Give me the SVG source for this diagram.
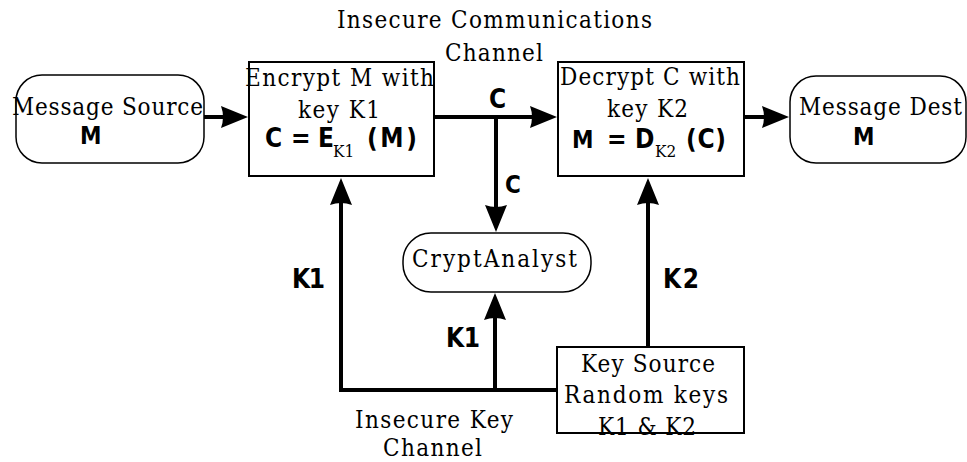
<svg xmlns="http://www.w3.org/2000/svg" width="967" height="462" viewBox="0 0 967 462">
<defs>
<marker id="ah" markerUnits="userSpaceOnUse" markerWidth="28" markerHeight="24" viewBox="0 0 28 24" refX="18" refY="12" orient="auto">
<path d="M0,1 L27,12 L0,23 Q4,12 0,1 z" fill="#000"/>
</marker>
<style>
.s{font-family:'DejaVu Serif Condensed','DejaVu Serif',serif;font-stretch:condensed;font-size:24px;fill:#000}
.sub{font-family:'DejaVu Serif Condensed','DejaVu Serif',serif;font-stretch:condensed;font-size:17px;fill:#000}
.b{font-family:'DejaVu Sans Condensed','DejaVu Sans',sans-serif;font-stretch:condensed;font-weight:bold;font-size:26px;fill:#000}
.bm{font-family:'DejaVu Sans Condensed','DejaVu Sans',sans-serif;font-stretch:condensed;font-weight:bold;font-size:24px;fill:#000}
.box{fill:#fff;stroke:#000;stroke-width:2}
.rbox{fill:#fff;stroke:#000;stroke-width:1.5}
.c{fill:none;stroke:#000;stroke-width:4;marker-end:url(#ah)}
</style>
</defs>
<rect width="967" height="462" fill="#fff"/>
<g id="connectors">
<line class="c" x1="204" y1="117" x2="239" y2="117"/>
<line class="c" x1="434" y1="117" x2="548" y2="117"/>
<line class="c" x1="496" y1="117" x2="496" y2="223"/>
<line class="c" x1="745" y1="117" x2="780" y2="117"/>
<polyline class="c" points="557,390 341,390 341,187"/>
<line class="c" x1="495" y1="390" x2="495" y2="302"/>
<line class="c" x1="648" y1="347" x2="648" y2="187"/>
<text class="b" x="489" y="108">C</text>
<text class="bm" x="505" y="193">C</text>
<text class="b" x="292" y="288" textLength="33">K1</text>
<text class="b" x="446" y="347" textLength="34">K1</text>
<text class="b" x="663" y="288" textLength="36">K2</text>
</g>
<g id="title-comm">
<text class="s" x="337" y="28" textLength="315">Insecure Communications</text>
<text class="s" x="445" y="61" textLength="98">Channel</text>
</g>
<g id="message-source">
<rect class="rbox" x="16" y="75" width="188" height="88" rx="26"/>
<text class="s" x="12" y="115" textLength="191">Message Source</text>
<text class="bm" x="80" y="144">M</text>
</g>
<g id="encrypt">
<rect class="box" x="249" y="62" width="185" height="114"/>
<text class="s" x="245" y="86" textLength="189">Encrypt M with</text>
<text class="s" x="298" y="118" textLength="82">key K1</text>
<text class="b" x="265" y="147">C</text>
<text class="b" x="291" y="147">=</text>
<text class="b" x="318" y="147">E</text>
<text class="sub" x="333" y="157">K1</text>
<text class="b" x="367" y="147" textLength="50">(M)</text>
</g>
<g id="decrypt">
<rect class="box" x="558" y="62" width="186" height="114"/>
<text class="s" x="560" y="85" textLength="180">Decrypt C with</text>
<text class="s" x="607" y="117" textLength="81">key K2</text>
<text class="bm" x="572" y="148">M</text>
<text class="b" x="607" y="148">=</text>
<text class="b" x="635" y="148">D</text>
<text class="sub" x="655" y="157">K2</text>
<text class="b" x="686" y="148" textLength="40">(C)</text>
</g>
<g id="message-dest">
<rect class="rbox" x="790" y="76" width="176" height="87" rx="26"/>
<text class="s" x="799" y="115" textLength="163">Message Dest</text>
<text class="bm" x="853" y="145">M</text>
</g>
<g id="cryptanalyst">
<rect class="rbox" x="403" y="233" width="188" height="59" rx="28"/>
<text class="s" x="412" y="267" textLength="165">CryptAnalyst</text>
</g>
<g id="key-source">
<rect class="box" x="557" y="347" width="187" height="86"/>
<text class="s" x="581" y="372" textLength="134">Key Source</text>
<text class="s" x="564" y="403" textLength="164">Random keys</text>
<text class="s" x="598" y="435" textLength="98">K1 &amp; K2</text>
</g>
<g id="title-key">
<text class="s" x="355" y="428" textLength="158">Insecure Key</text>
<text class="s" x="383" y="456" textLength="99">Channel</text>
</g>
</svg>
